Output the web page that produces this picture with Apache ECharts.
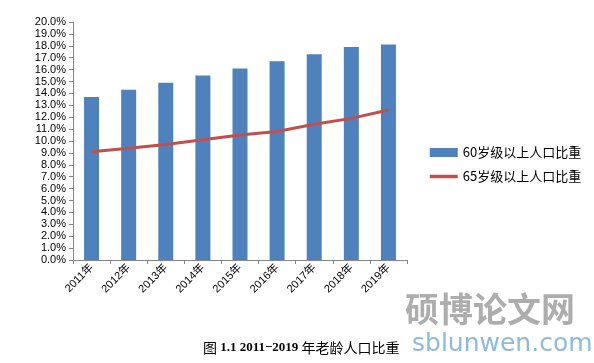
<!DOCTYPE html>
<html><head><meta charset="utf-8">
<script src="https://cdn.jsdelivr.net/npm/echarts@6/dist/echarts.min.js"></script>
<style>html,body{margin:0;padding:0;background:#fff}#c{width:594px;height:363px}</style>
</head><body><div id="c"></div>
<script>
const years = ['2011年','2012年','2013年','2014年','2015年','2016年','2017年','2018年','2019年'];
const pct60 = [13.7, 14.3, 14.9, 15.5, 16.1, 16.7, 17.3, 17.9, 18.1];
const pct65 = [9.1, 9.4, 9.7, 10.1, 10.5, 10.8, 11.4, 11.9, 12.6];
const name60 = '60岁级以上人口比重';
const name65 = '65岁级以上人口比重';

const chart = echarts.init(document.getElementById('c'), null, {renderer:'canvas'});
const axisColor = '#868686';
const cjk = '"Liberation Sans","Noto Sans CJK SC",sans-serif';
chart.setOption({
  animation:false,
  backgroundColor:'#fff',
  grid:{left:73, right:187, top:22, bottom:103},
  legend:{
    orient:'vertical', left:423, top:141, itemWidth:28, itemHeight:9, itemGap:11,
    textStyle:{fontSize:13, color:'#000', fontFamily:'"Noto Sans CJK SC",sans-serif'},
    data:[{name:name60, icon:'rect'},{name:name65, itemStyle:{opacity:0}, lineStyle:{width:3.5, color:'#C0504D'}}]
  },
  xAxis:{
    type:'category', data:years,
    axisLine:{lineStyle:{color:axisColor}},
    axisTick:{show:true, length:4, lineStyle:{color:axisColor}},
    axisLabel:{rotate:45, fontSize:11, color:'#000', fontFamily:cjk, margin:6, interval:0}
  },
  yAxis:{
    type:'value', min:0, max:20, interval:1,
    axisLine:{show:true, lineStyle:{color:axisColor}},
    axisTick:{show:true, length:4, lineStyle:{color:axisColor}},
    splitLine:{show:false},
    axisLabel:{fontSize:11, color:'#000', fontFamily:'"Liberation Sans",sans-serif', margin:7,
      formatter:v=>v.toFixed(1)+'%'}
  },
  series:[
    {name:name60, type:'bar', data:pct60, barWidth:15, itemStyle:{color:'#4F81BD'}},
    {name:name65, type:'line', data:pct65, symbol:'none', lineStyle:{color:'#C0504D', width:3}, itemStyle:{color:'#C0504D'}}
  ],
  graphic:[
    {type:'text', left:405, top:292, silent:true, style:{text:'硕博论文网', fontSize:34, fill:'#8a8a8a', opacity:0.7, fontFamily:'"Noto Sans CJK SC",sans-serif', fontWeight:'bold'}},
    {type:'text', left:412, top:332, silent:true, style:{text:'sblunwen.com', fontSize:25, fill:'#7aaedb', opacity:0.85, fontFamily:'"DejaVu Sans",sans-serif'}},
    {type:'text', left:203, top:341, silent:true, style:{
      text:'{a|图 }{b|1.1 2011−2019 }{a|年老龄人口比重}',
      rich:{
        a:{fontSize:14, fill:'#000', fontFamily:'"Noto Sans CJK SC",serif'},
        b:{fontSize:13, fill:'#000', fontWeight:'bold', fontFamily:'"Liberation Serif",serif'}
      }}}
  ]
});
</script></body></html>
